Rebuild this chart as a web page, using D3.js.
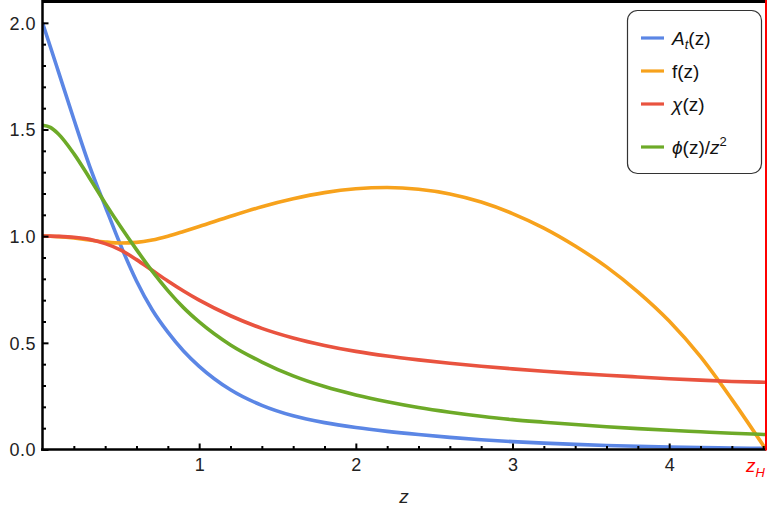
<!DOCTYPE html>
<html>
<head>
<meta charset="utf-8">
<script src="https://cdn.jsdelivr.net/npm/d3@7"></script>
<style>
  html, body { margin: 0; padding: 0; background: #fff; }
  svg { display: block; font-family: "Liberation Sans", Arial, sans-serif; }
</style>
</head>
<body>
<svg id="chart" width="768" height="510"></svg>
<script>
// ---- data ----
const zSamples  = [0, 0.05, 0.1, 0.2, 0.3, 0.4, 0.5, 0.6, 0.7, 0.8, 0.9, 1.0, 1.2, 1.4, 1.6, 1.8, 2.0, 2.2, 2.4, 2.6, 2.8, 3.0, 3.2, 3.4, 3.6, 3.8, 4.0, 4.2, 4.4, 4.618];
const atValues  = [2.0, 1.888, 1.775, 1.548, 1.33, 1.14, 0.955, 0.79, 0.655, 0.55, 0.462, 0.39, 0.28, 0.207, 0.158, 0.126, 0.103, 0.085, 0.07, 0.057, 0.046, 0.037, 0.03, 0.024, 0.019, 0.015, 0.012, 0.009, 0.007, 0.005];
const fValues   = [1.0, 0.9995, 0.998, 0.992, 0.982, 0.973, 0.968, 0.971, 0.982, 1.0, 1.022, 1.045, 1.093, 1.138, 1.175, 1.204, 1.222, 1.228, 1.220, 1.198, 1.160, 1.106, 1.038, 0.954, 0.856, 0.739, 0.602, 0.435, 0.235, 0.0];
const chiValues = [1.0, 1.0, 0.999, 0.995, 0.985, 0.965, 0.935, 0.89, 0.84, 0.79, 0.743, 0.70, 0.627, 0.568, 0.523, 0.488, 0.46, 0.438, 0.42, 0.404, 0.39, 0.378, 0.367, 0.357, 0.348, 0.34, 0.332, 0.325, 0.319, 0.315];
const phiValues = [1.52, 1.51, 1.48, 1.387, 1.273, 1.155, 1.043, 0.937, 0.836, 0.745, 0.665, 0.598, 0.49, 0.41, 0.345, 0.295, 0.256, 0.224, 0.197, 0.175, 0.156, 0.14, 0.128, 0.117, 0.107, 0.098, 0.09, 0.083, 0.076, 0.07];

const seriesNames  = ["At", "f", "chi", "phi"];
const seriesColors = ["#5B86E5", "#F7A21C", "#E9533F", "#6DAA28"];

const xMajorTicks = [1, 2, 3, 4];
const xTickLabels = ["1", "2", "3", "4"];
const yMajorTicks = [0, 0.5, 1.0, 1.5, 2.0];
const yTickLabels = ["0.0", "0.5", "1.0", "1.5", "2.0"];
const zHorizon = 4.618;

// ---- layout ----
const svg = d3.select("#chart");
const pLeft = 42.5, pRight = 766, pTop = 1.5, pBottom = 449.5;
const x = d3.scaleLinear().domain([0, zHorizon]).range([pLeft, pRight]);
const y = d3.scaleLinear().domain([0, 2.1]).range([pBottom, pTop]);

svg.append("defs").append("clipPath").attr("id", "clip")
  .append("rect").attr("x", pLeft).attr("y", pTop).attr("width", pRight - pLeft).attr("height", pBottom - pTop);

// curves
const allSeries = [atValues, fValues, chiValues, phiValues];
const line = d3.line().x(d => x(d[0])).y(d => y(d[1])).curve(d3.curveMonotoneX);
const gCurves = svg.append("g").attr("clip-path", "url(#clip)");
allSeries.forEach((vals, i) => {
  gCurves.append("path")
    .datum(zSamples.map((z, k) => [z, vals[k]]))
    .attr("d", line)
    .attr("fill", "none")
    .attr("stroke", seriesColors[i])
    .attr("stroke-width", 3.6)
    .attr("stroke-linejoin", "round");
});

// axes (ticks inward)
const xMinor = d3.range(0.2, zHorizon + 0.001, 0.2).filter(v => Math.abs(v - Math.round(v)) > 1e-6);
const yMinor = d3.range(0.1, 2.05, 0.1).filter(v => Math.abs(v * 2 - Math.round(v * 2)) > 1e-6);

const xAxis = svg.append("g").attr("transform", `translate(0,${pBottom})`)
  .call(d3.axisBottom(x).tickValues(xMajorTicks).tickSize(-6).tickPadding(9)
    .tickFormat((d, i) => xTickLabels[i]));
const xAxisMinor = svg.append("g").attr("transform", `translate(0,${pBottom})`)
  .call(d3.axisBottom(x).tickValues(xMinor).tickSize(-3.5).tickFormat(""));
const yAxis = svg.append("g").attr("transform", `translate(${pLeft},0)`)
  .call(d3.axisLeft(y).tickValues(yMajorTicks).tickSize(-6).tickPadding(6.5)
    .tickFormat((d, i) => yTickLabels[i]));
const yAxisMinor = svg.append("g").attr("transform", `translate(${pLeft},0)`)
  .call(d3.axisLeft(y).tickValues(yMinor).tickSize(-3.5).tickFormat(""));

[xAxis, xAxisMinor, yAxis, yAxisMinor].forEach(g => {
  g.select(".domain").remove();
  g.selectAll(".tick line").attr("stroke", "#000").attr("stroke-width", 2);
  g.selectAll(".tick text").attr("fill", "#222").style("font-size", "18px");
});
yAxis.selectAll(".tick text").attr("dy", "0.35em").style("letter-spacing", "0.5px");

// frame: bottom, left, top (black) and right (red)
svg.append("line").attr("x1", pLeft - 1.5).attr("x2", pRight).attr("y1", pBottom).attr("y2", pBottom)
  .attr("stroke", "#000").attr("stroke-width", 2.5);
svg.append("line").attr("x1", pLeft).attr("x2", pLeft).attr("y1", 0).attr("y2", pBottom + 1.2)
  .attr("stroke", "#000").attr("stroke-width", 2.5);
svg.append("line").attr("x1", pLeft).attr("x2", pRight).attr("y1", pTop).attr("y2", pTop)
  .attr("stroke", "#000").attr("stroke-width", 3);
svg.append("line").attr("x1", pRight).attr("x2", pRight).attr("y1", 0).attr("y2", pBottom + 1)
  .attr("stroke", "#FF0000").attr("stroke-width", 2);

// z_H label
const zh = svg.append("text").attr("x", x(zHorizon) - 1).attr("y", 472)
  .attr("text-anchor", "end").attr("fill", "#FF0000").style("font-size", "19px");
zh.append("tspan").attr("font-style", "italic").text("z");
zh.append("tspan").attr("font-style", "italic").attr("dy", "5").style("font-size", "13px").text("H");

// x axis title
svg.append("text").attr("x", 404).attr("y", 503).attr("text-anchor", "middle")
  .attr("font-style", "italic").attr("fill", "#222").style("font-size", "19px").text("z");

// legend
const lg = svg.append("g");
lg.append("rect").attr("x", 627.5).attr("y", 10.5).attr("width", 134).attr("height", 163)
  .attr("rx", 10).attr("fill", "#fff").attr("stroke", "#333").attr("stroke-width", 1.2);
const legendY = [38, 71, 104, 147];
legendY.forEach((ly, i) => {
  lg.append("line").attr("x1", 641).attr("x2", 664).attr("y1", ly).attr("y2", ly)
    .attr("stroke", seriesColors[i]).attr("stroke-width", 3.2);
});
const tSize = "19px";
function ltext(ly) {
  return lg.append("text").attr("x", 672).attr("y", ly + 6.5).attr("fill", "#111").style("font-size", tSize);
}
let t = ltext(legendY[0]);
t.append("tspan").attr("font-style", "italic").text("A");
t.append("tspan").attr("font-style", "italic").attr("dy", 4).style("font-size", "13px").text("t");
t.append("tspan").attr("dy", -4).text("(z)");
t = ltext(legendY[1]);
t.append("tspan").text("f(z)");
t = ltext(legendY[2]);
t.append("tspan").attr("font-style", "italic").text("χ");
t.append("tspan").text("(z)");
t = ltext(legendY[3]);
t.append("tspan").attr("font-style", "italic").text("ϕ");
t.append("tspan").text("(z)/");
t.append("tspan").attr("font-style", "italic").text("z");
t.append("tspan").attr("dy", -8).style("font-size", "13px").text("2");
</script>
</body>
</html>
